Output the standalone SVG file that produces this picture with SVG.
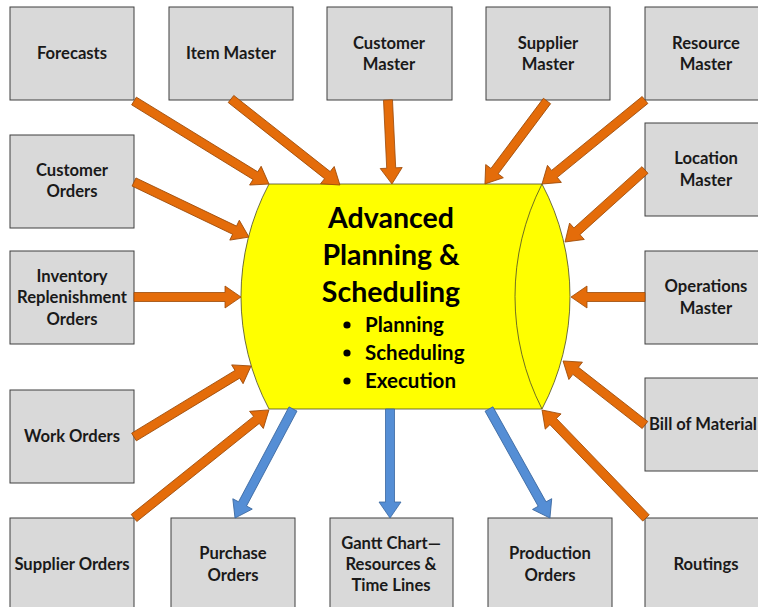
<svg xmlns="http://www.w3.org/2000/svg" width="758" height="607" viewBox="0 0 758 607">
<style>
.box{fill:#D9D9D9;stroke:#3F3F3F;stroke-width:1}
.t{font-family:Lato,"Liberation Sans",sans-serif;font-weight:bold;font-size:16.6px;fill:#1a1a1a;text-anchor:middle}
.o{fill:#E46C0A;stroke:#9C4A08;stroke-width:0.8}
.b{fill:#558ED5;stroke:#3A67A0;stroke-width:0.8}
.h{font-family:Lato,"Liberation Sans",sans-serif;font-weight:bold;font-size:28.5px;fill:#000;text-anchor:middle}
.s{font-family:Lato,"Liberation Sans",sans-serif;font-weight:bold;font-size:20.5px;fill:#000}
</style>
<rect width="758" height="607" fill="#fff"/>
<g id="cylinder">
<path d="M269,184 L542,184 A240,240 0 0 1 542,409 L269,409 A240,240 0 0 1 269,184 Z" fill="#FFFF00" stroke="#4a4a2a" stroke-width="0.8"/>
<path d="M542,184 A248,248 0 0 0 542,409" fill="none" stroke="#4a4a2a" stroke-width="0.8"/>
<text class="h" x="391" y="228">Advanced</text>
<text class="h" x="391" y="265">Planning &amp;</text>
<text class="h" x="391" y="302">Scheduling</text>
<circle cx="347" cy="325" r="3.6" fill="#000"/>
<circle cx="347" cy="353" r="3.6" fill="#000"/>
<circle cx="347" cy="381" r="3.6" fill="#000"/>
<text class="s" x="365" y="332">Planning</text>
<text class="s" x="365" y="360">Scheduling</text>
<text class="s" x="365" y="388">Execution</text>
</g>
<g id="forecasts"><rect class="box" x="10" y="7" width="124" height="93"/><text class="t" x="72" y="59">Forecasts</text></g>
<g id="item-master"><rect class="box" x="169" y="7" width="124" height="93"/><text class="t" x="231" y="59">Item Master</text></g>
<g id="customer-master"><rect class="box" x="327" y="7" width="125" height="93"/><text class="t" x="389" y="49">Customer</text><text class="t" x="389" y="70">Master</text></g>
<g id="supplier-master"><rect class="box" x="486" y="7" width="124" height="93"/><text class="t" x="548" y="49">Supplier</text><text class="t" x="548" y="70">Master</text></g>
<g id="resource-master"><rect class="box" x="645" y="7" width="124" height="93"/><text class="t" x="706" y="49">Resource</text><text class="t" x="706" y="70">Master</text></g>
<g id="customer-orders"><rect class="box" x="10" y="135" width="124" height="93"/><text class="t" x="72" y="176">Customer</text><text class="t" x="72" y="197">Orders</text></g>
<g id="inventory"><rect class="box" x="10" y="251" width="124" height="93"/><text class="t" x="72" y="282">Inventory</text><text class="t" x="72" y="303">Replenishment</text><text class="t" x="72" y="325">Orders</text></g>
<g id="work-orders"><rect class="box" x="10" y="390" width="124" height="93"/><text class="t" x="72" y="442">Work Orders</text></g>
<g id="supplier-orders"><rect class="box" x="10" y="518" width="124" height="93"/><text class="t" x="72" y="570">Supplier Orders</text></g>
<g id="location-master"><rect class="box" x="645" y="123" width="124" height="93"/><text class="t" x="706" y="164">Location</text><text class="t" x="706" y="186">Master</text></g>
<g id="operations-master"><rect class="box" x="645" y="251" width="124" height="93"/><text class="t" x="706" y="292">Operations</text><text class="t" x="706" y="314">Master</text></g>
<g id="bill-of-material"><rect class="box" x="645" y="378" width="124" height="93"/><text class="t" x="703" y="430">Bill of Material</text></g>
<g id="routings"><rect class="box" x="645" y="518" width="124" height="93"/><text class="t" x="706" y="570">Routings</text></g>
<g id="purchase-orders"><rect class="box" x="171" y="518" width="124" height="93"/><text class="t" x="233" y="559">Purchase</text><text class="t" x="233" y="581">Orders</text></g>
<g id="gantt"><rect class="box" x="330" y="518" width="123" height="93"/><text class="t" x="391" y="549">Gantt Chart—</text><text class="t" x="391" y="570">Resources &amp;</text><text class="t" x="391" y="591">Time Lines</text></g>
<g id="production-orders"><rect class="box" x="488" y="518" width="124" height="93"/><text class="t" x="550" y="559">Production</text><text class="t" x="550" y="581">Orders</text></g>
<g id="connectors">
<polygon class="o" transform="translate(134,101) rotate(31.6)" points="0,-4.5 142.5,-4.5 142.5,-11 158.5,0 142.5,11 142.5,4.5 0,4.5"/>
<polygon class="o" transform="translate(231,99) rotate(38.3)" points="0,-4.5 122.8,-4.5 122.8,-11 138.8,0 122.8,11 122.8,4.5 0,4.5"/>
<polygon class="o" transform="translate(388,100) rotate(87.3)" points="0,-4.5 68.1,-4.5 68.1,-11 84.1,0 68.1,11 68.1,4.5 0,4.5"/>
<polygon class="o" transform="translate(547,101) rotate(126.8)" points="0,-4.5 87.6,-4.5 87.6,-11 103.6,0 87.6,11 87.6,4.5 0,4.5"/>
<polygon class="o" transform="translate(645,100) rotate(140.8)" points="0,-4.5 116.9,-4.5 116.9,-11 132.9,0 116.9,11 116.9,4.5 0,4.5"/>
<polygon class="o" transform="translate(645,170) rotate(138)" points="0,-4.5 91.6,-4.5 91.6,-11 107.6,0 91.6,11 91.6,4.5 0,4.5"/>
<polygon class="o" transform="translate(645,297) rotate(180)" points="0,-4.5 58,-4.5 58,-11 74,0 58,11 58,4.5 0,4.5"/>
<polygon class="o" transform="translate(645,425) rotate(218)" points="0,-4.5 88,-4.5 88,-11 104,0 88,11 88,4.5 0,4.5"/>
<polygon class="o" transform="translate(646,518) rotate(226.1)" points="0,-4.5 133.9,-4.5 133.9,-11 149.9,0 133.9,11 133.9,4.5 0,4.5"/>
<polygon class="o" transform="translate(134,518) rotate(-38.7)" points="0,-4.5 156.9,-4.5 156.9,-11 172.9,0 156.9,11 156.9,4.5 0,4.5"/>
<polygon class="o" transform="translate(134,437) rotate(-31.25)" points="0,-4.5 120.9,-4.5 120.9,-11 136.9,0 120.9,11 120.9,4.5 0,4.5"/>
<polygon class="o" transform="translate(134,297)" points="0,-4.5 91,-4.5 91,-11 107,0 91,11 91,4.5 0,4.5"/>
<polygon class="o" transform="translate(134,182) rotate(25.6)" points="0,-4.5 111.5,-4.5 111.5,-11 127.5,0 111.5,11 111.5,4.5 0,4.5"/>
<polygon class="b" transform="translate(489,409) rotate(60.8)" points="0,-4.5 108.9,-4.5 108.9,-11 124.9,0 108.9,11 108.9,4.5 0,4.5"/>
<polygon class="b" transform="translate(390,409) rotate(90)" points="0,-4.5 93,-4.5 93,-11 109,0 93,11 93,4.5 0,4.5"/>
<polygon class="b" transform="translate(293,409) rotate(118)" points="0,-4.5 107.5,-4.5 107.5,-11 123.5,0 107.5,11 107.5,4.5 0,4.5"/>
</g>
</svg>
